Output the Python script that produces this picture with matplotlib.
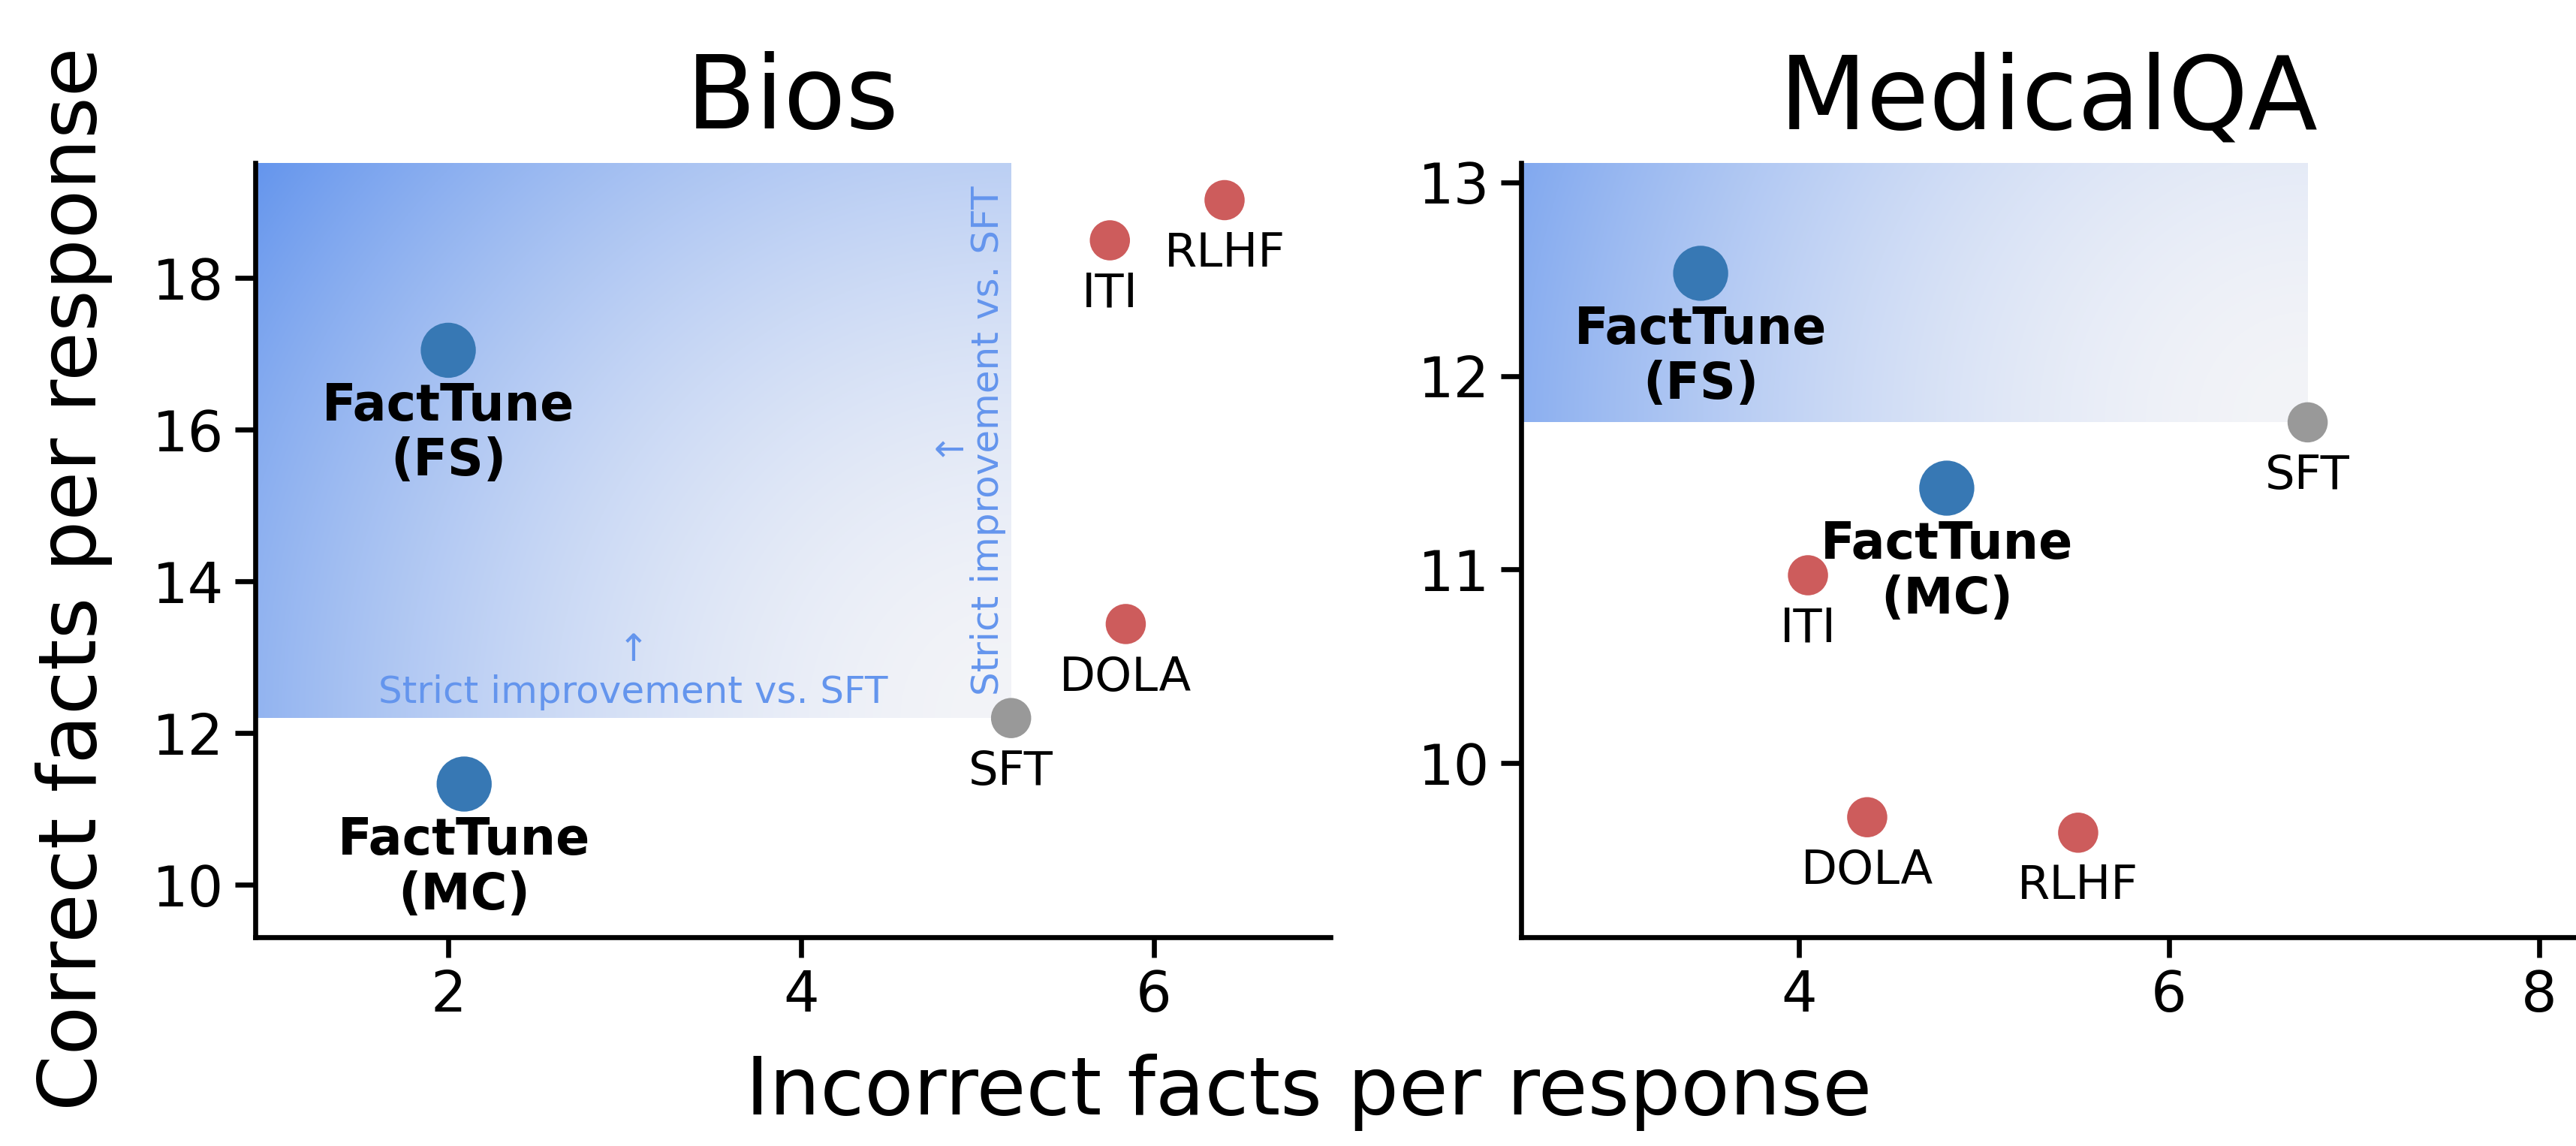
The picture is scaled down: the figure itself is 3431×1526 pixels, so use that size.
import numpy as np
import matplotlib
matplotlib.use("Agg")
import matplotlib.pyplot as plt
from matplotlib.colors import to_rgb

# methods, in the same order for both datasets
methods = ["FactTune (FS)", "FactTune (MC)", "SFT", "ITI", "DOLA", "RLHF"]
labels = ["FactTune\n(FS)", "FactTune\n(MC)", "SFT", "ITI", "DOLA", "RLHF"]
bold = [True, True, False, False, False, False]

# Bios
bios_incorrect = [2.00, 2.09, 5.19, 5.75, 5.84, 6.40]
bios_correct = [17.05, 11.33, 12.20, 18.50, 13.44, 19.03]

# MedicalQA
med_incorrect = [3.47, 4.80, 6.75, 4.05, 4.37, 5.51]
med_correct = [12.53, 11.42, 11.76, 10.97, 9.72, 9.64]

colors = ["#3778b4", "#3778b4", "#999999", "#cd5c5c", "#cd5c5c", "#cd5c5c"]
sizes = [310, 310, 165, 165, 165, 165]
grad_col = "cornflowerblue"
grad_low = "#f3f4f8"

W, H, DPI = 3431, 1526, 300
fig = plt.figure(figsize=(W / DPI, H / DPI), dpi=DPI)

ax1 = fig.add_axes([340 / W, 1 - 1248 / H, (1772 - 340) / W, (1248 - 217) / H])
ax2 = fig.add_axes([2026 / W, 1 - 1248 / H, (W - 2026) / W, (1248 - 217) / H])


def gradient(ax, sx, sy, xlim, ylim):
    # shaded box up-left of SFT, darker the further (in pixels) from SFT
    bb = ax.get_position()
    axw, axh = bb.width * W, bb.height * H
    n = 300
    xs = np.linspace(xlim[0], sx, n)
    ys = np.linspace(sy, ylim[1], n)
    X, Y = np.meshgrid(xs, ys)
    u = (sx - X) / (xlim[1] - xlim[0]) * axw
    v = (Y - sy) / (ylim[1] - ylim[0]) * axh
    t = np.clip(np.sqrt(u ** 2 + v ** 2) / 1250.0, 0, 1) ** 1.8
    lo, hi = np.array(to_rgb(grad_low)), np.array(to_rgb(grad_col))
    img = lo + (hi - lo) * t[..., None]
    ax.imshow(img, extent=[xlim[0], sx, sy, ylim[1]], origin="lower",
              aspect="auto", interpolation="bilinear", zorder=0)


def panel(ax, xs, ys, title, xlim, ylim, xticks, yticks):
    sft = methods.index("SFT")
    gradient(ax, xs[sft], ys[sft], xlim, ylim)
    ax.scatter(xs, ys, c=colors, s=sizes, edgecolors="none", zorder=3)
    for x, y, lab, b in zip(xs, ys, labels, bold):
        if b:
            # one text per line so the short second line keeps a tight box
            for k, line in enumerate(lab.split("\n")):
                ax.annotate(line, (x, y), xytext=(0, -10 - 17.5 * k),
                            textcoords="offset points", ha="center", va="top",
                            fontsize=16, fontweight="bold")
        else:
            ax.annotate(lab, (x, y), xytext=(0, -10), textcoords="offset points",
                        ha="center", va="top", fontsize=15)
    ax.set_xlim(*xlim)
    ax.set_ylim(*ylim)
    ax.set_xticks(xticks)
    ax.set_yticks(yticks)
    ax.tick_params(labelsize=18, width=1.6, length=6.5)
    for s in ["top", "right"]:
        ax.spines[s].set_visible(False)
    for s in ["left", "bottom"]:
        ax.spines[s].set_linewidth(1.6)
    ax.set_title(title, fontsize=32.5, pad=11)


panel(ax1, bios_incorrect, bios_correct, "Bios", (0.906, 7.0), (9.31, 19.52),
      [2, 4, 6], [10, 12, 14, 16, 18])
panel(ax2, med_incorrect, med_correct, "MedicalQA", (2.5, 8.2), (9.10, 13.10),
      [4, 6, 8], [10, 11, 12, 13])

# annotations for the strict improvement region in Bios
sx, sy = bios_incorrect[2], bios_correct[2]
ax1.text((0.906 + sx) / 2, sy + 0.1, "↑\nStrict improvement vs. SFT",
         ha="center", va="bottom", fontsize=12, color=grad_col,
         multialignment="center")
ax1.text(sx - 0.03, (sy + 19.52) / 2, "↑\nStrict improvement vs. SFT",
         ha="right", va="center", rotation=90, fontsize=12, color=grad_col,
         multialignment="center")

fig.text(0.508, 0.047, "Incorrect facts per response", ha="center", va="center",
         fontsize=25.7)
fig.text(0.0286, 0.495, "Correct facts per response", ha="center", va="center",
         rotation=90, fontsize=25.7)

fig.savefig("out.png", dpi=DPI)
